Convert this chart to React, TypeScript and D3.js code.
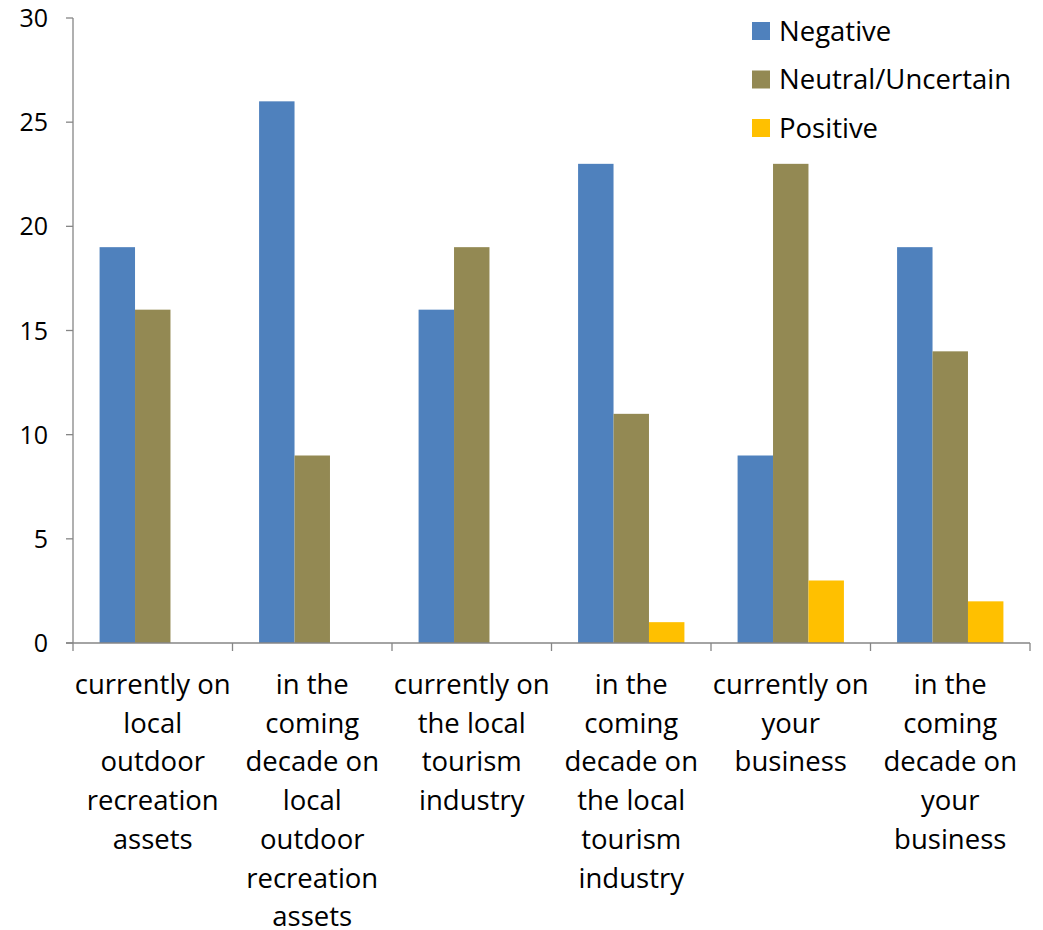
import React from "react";
import * as d3 from "d3";

const categories: string[][] = [
  ["currently on", "local", "outdoor", "recreation", "assets"],
  ["in the", "coming", "decade on", "local", "outdoor", "recreation", "assets"],
  ["currently on", "the local", "tourism", "industry"],
  ["in the", "coming", "decade on", "the local", "tourism", "industry"],
  ["currently on", "your", "business"],
  ["in the", "coming", "decade on", "your", "business"],
];
const seriesNames = ["Negative", "Neutral/Uncertain", "Positive"];
const negative = [19, 26, 16, 23, 9, 19];
const neutral = [16, 9, 19, 11, 23, 14];
const positive = [0, 0, 0, 1, 3, 2];
const yTicks = [0, 5, 10, 15, 20, 25, 30];
const colors = ["#4F81BD", "#938953", "#FFC000"];

const FONT = "'Open Sans', Lato, sans-serif";

export default function App() {
  const W = 1043, H = 930;
  const left = 73, right = 1030, top = 18, bottom = 643;
  const series = [negative, neutral, positive];
  const idx = categories.map((_, i) => i);
  const x0 = d3.scaleBand<number>().domain(idx).range([left, right]).paddingInner(0).paddingOuter(0);
  const x1 = d3.scaleBand<number>().domain([0, 1, 2]).range([0, x0.bandwidth()]).paddingInner(0).paddingOuter(0.75);
  const y = d3.scaleLinear().domain([0, 30]).range([bottom, top]);
  const axisColor = "#868686";
  const boundaries = d3.range(categories.length + 1).map((i) => left + i * x0.bandwidth());

  return (
    <svg width={W} height={H} style={{ position: "absolute", left: 0, top: 0, background: "#fff" }} fontFamily={FONT}>
      {series.map((vals, s) =>
        vals.map((v, i) => (
          <rect
            key={`${s}-${i}`}
            x={(x0(i) as number) + (x1(s) as number)}
            y={y(v)}
            width={x1.bandwidth()}
            height={bottom - y(v)}
            fill={colors[s]}
          />
        ))
      )}
      {/* y axis */}
      <line x1={left} x2={left} y1={top} y2={bottom} stroke={axisColor} strokeWidth={1.3} />
      {yTicks.map((t) => (
        <g key={t}>
          <line x1={left - 7} x2={left} y1={y(t)} y2={y(t)} stroke={axisColor} strokeWidth={1.3} />
          <text x={48} y={y(t)} dy="0.36em" textAnchor="end" fontSize={25} fill="#000">
            {t}
          </text>
        </g>
      ))}
      {/* x axis */}
      <line x1={left - 7} x2={right} y1={bottom} y2={bottom} stroke={axisColor} strokeWidth={1.3} />
      {boundaries.map((bx, i) => (
        <line key={i} x1={bx} x2={bx} y1={bottom} y2={bottom + 8} stroke={axisColor} strokeWidth={1.3} />
      ))}
      {categories.map((lines, i) => (
        <text key={i} textAnchor="middle" fontSize={27.5} fill="#000">
          {lines.map((ln, j) => (
            <tspan key={j} x={(x0(i) as number) + x0.bandwidth() / 2} y={694 + j * 38.7}>
              {ln}
            </tspan>
          ))}
        </text>
      ))}
      {/* legend */}
      {seriesNames.map((n, s) => (
        <g key={n} transform={`translate(752, ${22 + s * 48.5})`}>
          <rect x={0} y={0} width={18} height={18} fill={colors[s]} />
          <text x={27} y={9} dy="0.36em" fontSize={27.5} fill="#000">
            {n}
          </text>
        </g>
      ))}
    </svg>
  );
}
